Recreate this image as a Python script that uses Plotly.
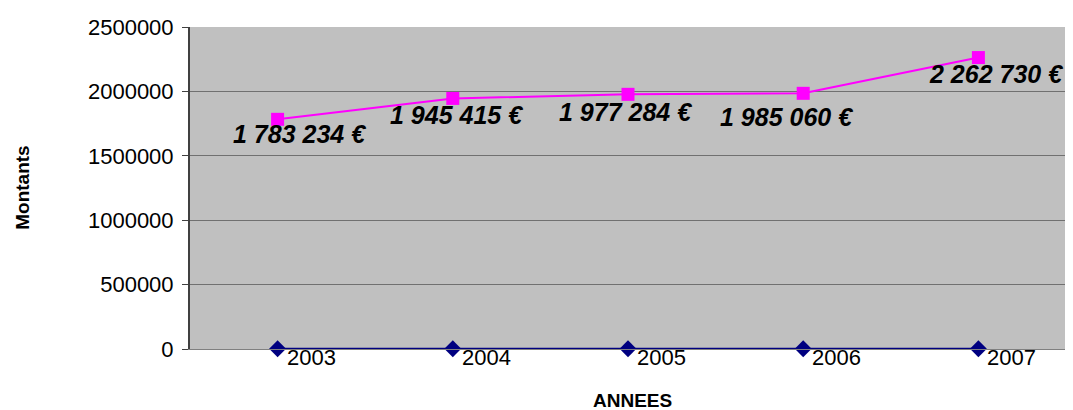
import plotly.graph_objects as go

categories = ["2003", "2004", "2005", "2006", "2007"]
annees_values = [2003, 2004, 2005, 2006, 2007]
montants_values = [1783234, 1945415, 1977284, 1985060, 2262730]
montants_labels = ["1 783 234 €", "1 945 415 €", "1 977 284 €", "1 985 060 €", "2 262 730 €"]
y_tick_values = [0, 500000, 1000000, 1500000, 2000000, 2500000]
y_tick_labels = ["0", "500000", "1000000", "1500000", "2000000", "2500000"]

# label offsets (pixels) relative to their markers: (dx, dy down)
label_offsets = [(22, 15), (4, 17), (-3, 18), (-17, 24), (18, 16)]

FONT = "Liberation Sans, Arial, sans-serif"

fig = go.Figure()
fig.add_trace(go.Scatter(
    x=categories, y=annees_values, mode="lines+markers",
    line=dict(color="#000080", width=2),
    marker=dict(symbol="diamond", size=13, color="#000080"),
    hoverinfo="skip", showlegend=False, cliponaxis=False,
))
fig.add_trace(go.Scatter(
    x=categories, y=montants_values, mode="lines+markers",
    line=dict(color="#FF00FF", width=2),
    marker=dict(symbol="square", size=13, color="#FF00FF"),
    hoverinfo="skip", showlegend=False, cliponaxis=False,
))

annotations = []
for i, (val, lab, (dx, dy)) in enumerate(zip(montants_values, montants_labels, label_offsets)):
    annotations.append(dict(
        x=i, y=val, xref="x", yref="y", text=lab, showarrow=False,
        xanchor="center", yanchor="middle", xshift=dx, yshift=-dy,
        font=dict(family=FONT, size=25, color="black", weight="bold", style="italic"),
    ))
for i, val in enumerate(annees_values):
    annotations.append(dict(
        x=i, y=val, xref="x", yref="y", text=str(val), showarrow=False,
        xanchor="left", yanchor="middle", xshift=7, yshift=-9,
        font=dict(family=FONT, size=22, color="black"),
    ))
annotations.append(dict(
    x=-0.192, y=0.5, xref="paper", yref="paper", text="<b>Montants</b>", showarrow=False,
    textangle=-90, xanchor="center", yanchor="middle",
    font=dict(family=FONT, size=19, color="black"),
))
annotations.append(dict(
    x=0.505, y=-0.16, xref="paper", yref="paper", text="<b>ANNEES</b>", showarrow=False,
    xanchor="center", yanchor="middle",
    font=dict(family=FONT, size=19, color="black"),
))

fig.update_layout(
    width=1065, height=402,
    margin=dict(l=182, r=7, t=17, b=61),
    paper_bgcolor="white", plot_bgcolor="#C0C0C0",
    font=dict(family=FONT, color="black"),
    annotations=annotations,
    xaxis=dict(
        type="category", range=[-0.5, 4.5], showticklabels=False, ticks="",
        showgrid=False, zeroline=False, showline=True, linecolor="#808080", linewidth=1,
    ),
    yaxis=dict(
        range=[0, 2500000], tickvals=y_tick_values, ticktext=y_tick_labels,
        ticks="outside", ticklen=6, tickcolor="#404040", ticklabelstandoff=4,
        tickfont=dict(family=FONT, size=22, color="black"),
        showgrid=True, gridcolor="#707070", gridwidth=1, zeroline=False,
        showline=True, linecolor="#404040", linewidth=2,
    ),
    shapes=[dict(type="line", xref="paper", yref="paper", x0=1, x1=1, y0=0, y1=1,
                 line=dict(color="#808080", width=1))],
)

fig.write_html("out.html")
